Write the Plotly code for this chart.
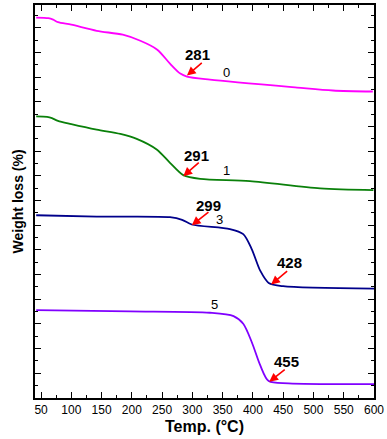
import plotly.graph_objects as go

# Temperatures (°C) and stacked weight-loss curves (offset, arbitrary units)
t0 = [42, 62, 70, 78, 100, 142, 185, 214, 242, 263, 280, 291, 329, 473, 532, 598]
w0 = [30.83, 30.78, 30.66, 30.46, 30.25, 29.76, 29.44, 28.95, 28.23, 27.10, 26.29, 26.05, 25.80, 25.16, 24.92, 24.84]

t1 = [42, 60, 68, 78, 100, 142, 181, 208, 241, 263, 285, 313, 395, 511, 599]
w1 = [22.82, 22.78, 22.68, 22.46, 22.20, 21.75, 21.40, 21.00, 20.14, 19.06, 18.06, 17.75, 17.58, 16.99, 16.85]

t3 = [42, 142, 263, 283, 299, 362, 384, 398, 412, 426, 450, 600]
w3 = [14.81, 14.70, 14.65, 14.44, 14.06, 13.69, 13.28, 12.07, 10.32, 9.33, 9.06, 8.87]

t5 = [42, 197, 329, 368, 384, 398, 412, 426, 459, 600]
w5 = [7.12, 7.02, 6.91, 6.64, 6.02, 4.54, 2.66, 1.37, 1.19, 1.13]

names = ["0", "1", "3", "5"]
colors = ["#ff00ff", "#0a800a", "#00008b", "#8000ff"]

# onset labels: text, arrow tip (x, y), arrow tail (x, y), text position (x, y)
onset_text = ["281", "291", "299", "428", "455"]
tip_x = [291, 285, 299, 430, 427]
tip_y = [26.13, 17.98, 14.00, 9.19, 1.31]
tail_x = [318, 313, 329, 459, 455]
tail_y = [27.26, 19.19, 15.16, 10.38, 2.40]
txt_x = [309, 307, 326, 461, 456]
txt_y = [27.80, 19.65, 15.62, 10.95, 2.95]

# curve number labels
num_x = [357, 356, 344, 336]
num_y = [26.37, 18.47, 14.44, 7.58]

fig = go.Figure()
for t, w, c, n in zip([t0, t1, t3, t5], [w0, w1, w3, w5], colors, names):
    fig.add_trace(go.Scatter(x=t, y=w, mode="lines", name=n,
                             line=dict(color=c, width=1.8, shape="spline", smoothing=0.8)))

for i in range(len(onset_text)):
    fig.add_annotation(x=tip_x[i], y=tip_y[i], ax=tail_x[i], ay=tail_y[i],
                       axref="x", ayref="y", text="", showarrow=True,
                       arrowhead=2, arrowsize=1.1, arrowwidth=1.6, arrowcolor="red")
    fig.add_annotation(x=txt_x[i], y=txt_y[i], text="<b>" + onset_text[i] + "</b>",
                       showarrow=False, font=dict(size=15, color="black", family="Arial"))

for i in range(len(names)):
    fig.add_annotation(x=num_x[i], y=num_y[i], text=names[i], showarrow=False,
                       font=dict(size=13, color="black", family="Arial"))

fig.add_annotation(x=-0.08, y=0.5, xref="paper", yref="paper", text="<b>Weight loss (%)</b>",
                   textangle=-90, showarrow=False, font=dict(size=14, color="black", family="Arial"))

fig.update_layout(
    width=387, height=439,
    margin=dict(l=35, r=13, t=3, b=41),
    paper_bgcolor="white", plot_bgcolor="white",
    showlegend=False,
    font=dict(family="Arial", color="black"),
    xaxis=dict(range=[40, 600], tick0=50, dtick=50, ticks="inside", ticklen=6, tickwidth=1.2,
               tickcolor="black", showline=True, linecolor="black", linewidth=1.5, mirror="allticks",
               showgrid=False, zeroline=False, tickfont=dict(size=12),
               minor=dict(dtick=25, tick0=25, ticks="inside", ticklen=3, tickcolor="black", showgrid=False),
               title=dict(text="<b>Temp. (°C)</b>", font=dict(size=16), standoff=5)),
    yaxis=dict(range=[0, 31.85], tick0=0, dtick=2, ticks="inside", ticklen=6, tickwidth=1.2,
               tickcolor="black", showline=True, linecolor="black", linewidth=1.5, mirror="allticks",
               showgrid=False, zeroline=False, showticklabels=False,
               minor=dict(dtick=1, ticks="inside", ticklen=3, tickcolor="black", showgrid=False)),
)

fig.write_html("out.html", config={"displayModeBar": False},
               post_script="document.body.style.margin='0';")
